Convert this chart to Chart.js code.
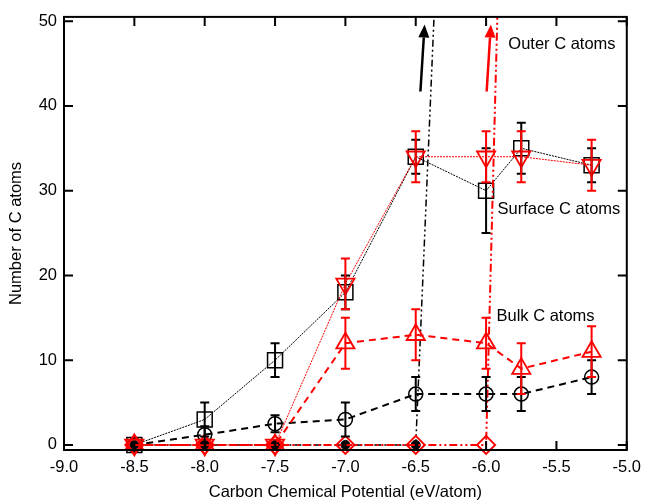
<!DOCTYPE html>
<html>
<head>
<meta charset="utf-8">
<script src="https://cdn.jsdelivr.net/npm/chart.js@4"></script>
<style>
  html, body { margin: 0; padding: 0; background: #fff; }
  canvas { display: block; }
</style>
</head>
<body>
<canvas id="chart" width="649" height="502"></canvas>
<script>
// x positions (carbon chemical potential, eV/atom)
const muC = [-8.5, -8.0, -7.5, -7.0, -6.5, -6.0, -5.75, -5.25];

// surface C atoms, black squares and red down triangles
const surfaceBlack = [0, 3, 10, 18, 34, 30, 35, 33];
const surfaceBlackErr = [0, 2, 2, 2, 2, 5, 3, 2];
const surfaceRed = [0, 0, 0, 19, 34, 34, 34, 33];
const surfaceRedErr = [0, 0, 0, 3, 3, 3, 3, 3];

// bulk C atoms, black circles and red up triangles
const bulkBlack = [0, 1.2, 2.5, 3, 6, 6, 6, 8];
const bulkBlackErr = [0, 1, 1, 2, 2, 2, 2, 2];
const bulkRed = [0, 0, 0, 12, 13, 12, 9, 11];
const bulkRedErr = [0, 0, 0, 3, 3, 3, 3, 3];

// outer C atoms, shoot up past the top of the plot
const outerBlackX = [-8.5, -8.0, -7.5, -7.0, -6.5, -6.37];
const outerBlack = [0, 0, 0, 0, 0, 50.5];
const outerRedX = [-8.5, -8.0, -7.5, -7.0, -6.5, -6.0, -5.92];
const outerRed = [0, 0, 0, 0, 0, 0, 50.5];

// axis ticks
const xTicks = [-9.0, -8.5, -8.0, -7.5, -7.0, -6.5, -6.0, -5.5, -5.0];
const yTicks = [0, 10, 20, 30, 40, 50];

// arrows [fromX, fromY, toX, toY] and text notes [x, y, text]
const arrows = [
    [-6.467, 41.7, -6.437, 49.6, "#000000"],
    [-5.996, 41.7, -5.966, 49.6, "#ff0000"]
];
const notes = [
    [-5.842, 47.3, "Outer C atoms"],
    [-5.919, 27.8, "Surface C atoms"],
    [-5.926, 15.1, "Bulk C atoms"]
];

const RED = "#ff0000";
const BLACK = "#000000";
const FONT = "'Liberation Sans', Arial, Helvetica, sans-serif";

const pts = (xs, ys) => ys.map((y, i) => ({ x: xs[i], y: y }));

Chart.defaults.font.family = FONT;
Chart.defaults.font.size = 16.5;
Chart.defaults.color = BLACK;

// error bars, drawn through the scales
const errorBars = {
    id: "errorBars",
    afterDatasetsDraw(chart) {
        const ctx = chart.ctx;
        const yScale = chart.scales.y;
        ctx.save();
        for (let d = chart.data.datasets.length - 1; d >= 0; d--) {
            const ds = chart.data.datasets[d];
            if (!ds.errors) continue;
            const meta = chart.getDatasetMeta(d);
            ctx.strokeStyle = ds.borderColor;
            ctx.lineWidth = 2;
            ctx.setLineDash([]);
            meta.data.forEach((el, i) => {
                const e = ds.errors[i];
                if (!e) return;
                const v = ds.data[i].y;
                const yTop = yScale.getPixelForValue(v + e);
                const yBot = yScale.getPixelForValue(v - e);
                ctx.beginPath();
                ctx.moveTo(el.x, yTop); ctx.lineTo(el.x, yBot);
                ctx.moveTo(el.x - 4.5, yTop); ctx.lineTo(el.x + 4.5, yTop);
                ctx.moveTo(el.x - 4.5, yBot); ctx.lineTo(el.x + 4.5, yBot);
                ctx.stroke();
            });
        }
        ctx.restore();
    }
};

// boxed frame with inward ticks, arrows and text notes
const frameAndNotes = {
    id: "frameAndNotes",
    afterDraw(chart) {
        const ctx = chart.ctx;
        const { left, right, top, bottom } = chart.chartArea;
        const xs = chart.scales.x, ys = chart.scales.y;
        ctx.save();
        ctx.strokeStyle = BLACK;
        ctx.lineWidth = 2;
        ctx.setLineDash([]);
        ctx.strokeRect(left, top, right - left, bottom - top);
        ctx.beginPath();
        xTicks.forEach(v => {
            const px = xs.getPixelForValue(v);
            ctx.moveTo(px, bottom); ctx.lineTo(px, bottom - 9);
            ctx.moveTo(px, top); ctx.lineTo(px, top + 9);
        });
        yTicks.forEach(v => {
            const py = ys.getPixelForValue(v);
            ctx.moveTo(left, py); ctx.lineTo(left + 9, py);
            ctx.moveTo(right, py); ctx.lineTo(right - 9, py);
        });
        ctx.stroke();

        arrows.forEach(a => {
            const x0 = xs.getPixelForValue(a[0]), y0 = ys.getPixelForValue(a[1]);
            const x1 = xs.getPixelForValue(a[2]), y1 = ys.getPixelForValue(a[3]);
            const ang = Math.atan2(y1 - y0, x1 - x0);
            const hl = 13, hw = 5.5;
            ctx.strokeStyle = a[4];
            ctx.fillStyle = a[4];
            ctx.lineWidth = 2.5;
            ctx.beginPath();
            ctx.moveTo(x0, y0);
            ctx.lineTo(x1 - Math.cos(ang) * hl, y1 - Math.sin(ang) * hl);
            ctx.stroke();
            ctx.beginPath();
            ctx.moveTo(x1, y1);
            ctx.lineTo(x1 - Math.cos(ang) * hl + Math.sin(ang) * hw, y1 - Math.sin(ang) * hl - Math.cos(ang) * hw);
            ctx.lineTo(x1 - Math.cos(ang) * hl - Math.sin(ang) * hw, y1 - Math.sin(ang) * hl + Math.cos(ang) * hw);
            ctx.closePath();
            ctx.fill();
        });

        ctx.fillStyle = BLACK;
        ctx.font = "16.5px " + FONT;
        ctx.textAlign = "left";
        ctx.textBaseline = "middle";
        notes.forEach(n => {
            ctx.fillText(n[2], xs.getPixelForValue(n[0]), ys.getPixelForValue(n[1]));
        });
        ctx.restore();
    }
};

const none = "rgba(0,0,0,0)";

new Chart(document.getElementById("chart"), {
    type: "line",
    data: {
        datasets: [
            {
                label: "Outer C (red)",
                data: pts(outerRedX, outerRed),
                borderColor: RED,
                borderWidth: 2,
                borderDash: [8, 3, 2, 3, 2, 3],
                pointStyle: "rectRot",
                pointRadius: c => c.dataIndex < outerRed.length - 1 ? 9 : 0,
                pointBorderColor: RED,
                pointBackgroundColor: none,
                pointBorderWidth: 2
            },
            {
                label: "Bulk C (red)",
                data: pts(muC, bulkRed),
                errors: bulkRedErr,
                borderColor: RED,
                borderWidth: 2,
                borderDash: [7, 5],
                pointStyle: "triangle",
                pointRadius: 10.5,
                pointBorderColor: RED,
                pointBackgroundColor: none,
                pointBorderWidth: 1.8
            },
            {
                label: "Surface C (red)",
                data: pts(muC, surfaceRed),
                errors: surfaceRedErr,
                borderColor: RED,
                borderWidth: 1,
                borderDash: [2, 1],
                pointStyle: "triangle",
                pointRotation: 180,
                pointRadius: 10.5,
                pointBorderColor: RED,
                pointBackgroundColor: none,
                pointBorderWidth: 1.8
            },
            {
                label: "Surface C (black)",
                data: pts(muC, surfaceBlack),
                errors: surfaceBlackErr,
                borderColor: BLACK,
                borderWidth: 1,
                borderDash: [2, 1],
                pointStyle: "rect",
                pointRadius: 10.6,
                pointBorderColor: BLACK,
                pointBackgroundColor: none,
                pointBorderWidth: 1.5
            },
            {
                label: "Bulk C (black)",
                data: pts(muC, bulkBlack),
                errors: bulkBlackErr,
                borderColor: BLACK,
                borderWidth: 2,
                borderDash: [7, 5],
                pointStyle: "circle",
                pointRadius: 7,
                pointBorderColor: BLACK,
                pointBackgroundColor: none,
                pointBorderWidth: 1.5
            },
            {
                label: "Outer C (black)",
                data: pts(outerBlackX, outerBlack),
                borderColor: BLACK,
                borderWidth: 1.5,
                borderDash: [7, 3, 2, 3, 2, 3],
                pointStyle: "circle",
                pointRadius: c => c.dataIndex < outerBlack.length - 1 ? 4.5 : 0,
                pointBorderColor: BLACK,
                pointBackgroundColor: BLACK,
                pointBorderWidth: 1
            }
        ]
    },
    options: {
        responsive: false,
        animation: false,
        devicePixelRatio: 1,
        layout: { padding: { top: 12, right: 15, left: 0, bottom: 0 } },
        elements: { line: { tension: 0, fill: false } },
        datasets: { line: { clip: false } },
        scales: {
            x: {
                type: "linear",
                min: -9.0,
                max: -5.0,
                afterBuildTicks: s => { s.ticks = xTicks.map(v => ({ value: v })); },
                afterFit: s => { s.height = 52; },
                grid: { display: false, drawTicks: false },
                border: { display: false },
                ticks: { padding: 8, color: BLACK, callback: v => v.toFixed(1), maxRotation: 0 },
                title: {
                    display: true,
                    text: "Carbon Chemical Potential (eV/atom)",
                    color: BLACK,
                    padding: { top: 0, bottom: 0 }
                }
            },
            y: {
                min: -0.6,
                max: 50.5,
                afterBuildTicks: s => { s.ticks = yTicks.map(v => ({ value: v })); },
                afterFit: s => { s.width = 64; },
                grid: { display: false, drawTicks: false },
                border: { display: false },
                ticks: { padding: 7, color: BLACK },
                title: {
                    display: true,
                    text: "Number of C atoms",
                    color: BLACK,
                    padding: { top: 7, bottom: 0 }
                }
            }
        },
        plugins: {
            legend: { display: false },
            tooltip: { enabled: false }
        }
    },
    plugins: [errorBars, frameAndNotes]
});
</script>
</body>
</html>
